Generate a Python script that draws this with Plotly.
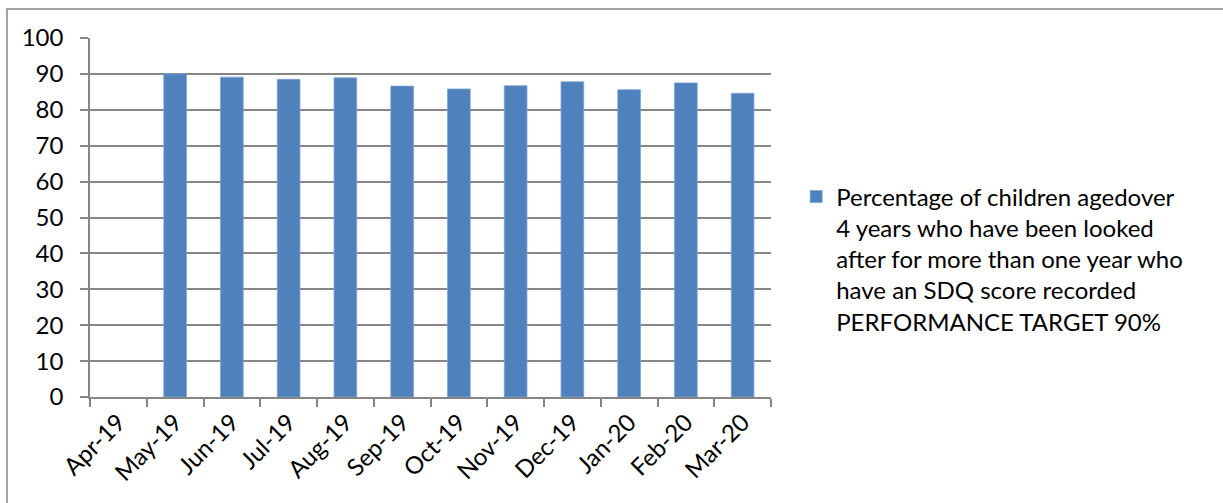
import plotly.graph_objects as go

months = ["Apr-19", "May-19", "Jun-19", "Jul-19", "Aug-19", "Sep-19", "Oct-19",
          "Nov-19", "Dec-19", "Jan-20", "Feb-20", "Mar-20"]
values = [None, 90.0, 89.1, 88.5, 88.9, 86.6, 85.8, 86.7, 87.8, 85.6, 87.5, 84.6]
series_name = ("Percentage of children agedover<br>4 years who have been looked<br>"
               "after for more than one year who<br>have an SDQ score recorded<br>"
               "PERFORMANCE TARGET 90%")
y_ticks = list(range(0, 101, 10))

FONT = "Lato"
GRAY = "#868686"

fig = go.Figure()
fig.add_trace(go.Bar(
    x=months, y=values, name=series_name,
    marker=dict(color="#4F81BD", line=dict(color="#7FA3D0", width=0.8)),
    showlegend=True,
))

fig.update_layout(
    width=1223, height=503, autosize=False,
    margin=dict(l=90, r=452, t=38, b=106),
    paper_bgcolor="white", plot_bgcolor="white",
    font=dict(family=FONT, size=24, color="#000000"),
    bargap=0.6,
    showlegend=True,
    legend=dict(
        x=1.037, xanchor="left", y=0.62, yanchor="top",
        valign="top", itemwidth=30,
        font=dict(family=FONT, size=24, color="#000000"),
        bgcolor="rgba(0,0,0,0)",
    ),
    xaxis=dict(
        type="category", categoryorder="array", categoryarray=months,
        tickson="boundaries", ticks="outside", ticklen=8, tickcolor=GRAY, tickwidth=1.5,
        showline=True, linecolor=GRAY, linewidth=1.5,
        showgrid=False, tickangle=-45,
        tickfont=dict(family=FONT, size=24),
        range=[-0.5, 11.5],
    ),
    yaxis=dict(
        range=[0, 100], tickvals=y_ticks,
        showgrid=True, gridcolor=GRAY, gridwidth=1.5,
        ticks="outside", ticklen=8, tickcolor=GRAY, tickwidth=1.5,
        showline=True, linecolor=GRAY, linewidth=1.5,
        zeroline=False,
        ticklabelstandoff=12,
        tickfont=dict(family=FONT, size=24),
    ),
    shapes=[dict(
        type="rect", xref="paper", yref="paper",
        x0=(7 - 90) / 681, x1=1.9, y0=-0.6, y1=(397 - 9) / 359,
        line=dict(color=GRAY, width=1.5), fillcolor="rgba(0,0,0,0)", layer="below",
    )],
)

fig.write_html("out.html",
               config={"displayModeBar": False},
               post_script="document.body.style.margin='0';document.body.style.padding='0';")
